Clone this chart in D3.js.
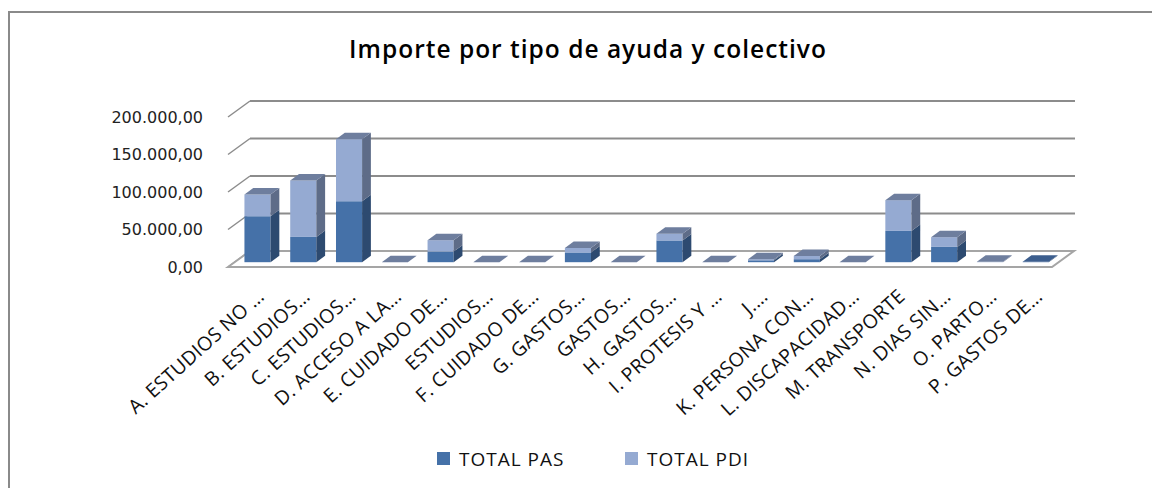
<!DOCTYPE html>
<html>
<head>
<meta charset="utf-8">
<script src="https://cdn.jsdelivr.net/npm/d3@7"></script>
<style>
  body { margin: 0; background: #fff; }
  svg { display: block; }
</style>
</head>
<body>
<svg id="chart" width="1152" height="488"></svg>
<script>
// categories and values (EUR)
var categories = [
  "A. ESTUDIOS NO …", "B. ESTUDIOS…", "C. ESTUDIOS…", "D. ACCESO A LA…",
  "E. CUIDADO DE…", "ESTUDIOS…", "F. CUIDADO DE…", "G. GASTOS…",
  "GASTOS…", "H. GASTOS…", "I. PROTESIS Y …", "J.…",
  "K. PERSONA CON…", "L. DISCAPACIDAD…", "M. TRANSPORTE", "N. DIAS SIN…",
  "O. PARTO…", "P. GASTOS DE…"
];
var totalPAS = [61300, 33700, 81300, 0, 14200, 0, 0, 13000, 0, 29000, 0, 2500, 4000, 0, 41700, 20400, 0, 600];
var totalPDI = [29000, 75300, 82700, 0, 15100, 0, 0, 6000, 0, 9000, 0, 1500, 4400, 0, 41000, 12900, 600, null];
var seriesNames = ["TOTAL PAS", "TOTAL PDI"];
var yTicks = [0, 50000, 100000, 150000, 200000];

var colors = {
  pas: {front: "#4571a8", side: "#2d4a70", top: "#3c5e8e"},
  pdi: {front: "#95aad2", side: "#5e6c88", top: "#6e7e9e"}
};

var svg = d3.select("#chart");

// frame of the chart area
svg.append("path")
  .attr("d", "M9,490 L9,12 L1160,12")
  .attr("fill", "none")
  .attr("stroke", "#8a8a8a")
  .attr("stroke-width", 2);

svg.append("text")
  .attr("x", 588)
  .attr("y", 58)
  .attr("text-anchor", "middle")
  .attr("font-family", "Open Sans")
  .attr("font-weight", 600)
  .attr("font-size", 24.5)
  .attr("letter-spacing", 1)
  .attr("fill", "#000")
  .text("Importe por tipo de ayuda y colectivo");

// 3d geometry
var depthX = 22, depthY = -16;
var x = d3.scaleBand().domain(categories).range([228, 1052]).paddingInner(0.43).paddingOuter(0.215);
var y = d3.scaleLinear().domain([0, 200000]).range([267, 117]);

// back wall gridlines + side diagonals
var grid = svg.append("g");
yTicks.forEach(function(t){
  if(t > 0){
    grid.append("line")
      .attr("x1", 228 + depthX).attr("x2", 1052 + depthX + 1)
      .attr("y1", y(t) + depthY).attr("y2", y(t) + depthY)
      .attr("stroke", "#8c8c8c").attr("stroke-width", 2);
  }
  grid.append("line")
    .attr("x1", 228).attr("y1", y(t))
    .attr("x2", 228 + depthX).attr("y2", y(t) + depthY)
    .attr("stroke", "#8c8c8c").attr("stroke-width", 1.5);
});

// floor
var x0 = 228, x1 = 1052, y0 = y(0);
svg.append("path")
  .attr("d", "M" + x0 + "," + y0 + " L" + (x0 + depthX) + "," + (y0 + depthY) +
    " L" + (x1 + depthX) + "," + (y0 + depthY) + " L" + x1 + "," + y0 + " Z")
  .attr("fill", "#fff")
  .attr("stroke", "#a5a5a5")
  .attr("stroke-width", 2);

// y labels
svg.append("g").selectAll("text")
  .data(yTicks)
  .enter().append("text")
  .attr("x", 203)
  .attr("y", function(d){ return y(d); })
  .attr("dy", "0.35em")
  .attr("text-anchor", "end")
  .attr("font-family", "DejaVu Sans")
  .attr("font-size", 16)
  .attr("fill", "#222")
  .text(function(d){
    return d3.format(",.2f")(d).replace(/,/g, "#").replace(".", ",").replace(/#/g, ".");
  });

// bars
var front = 0.3, thick = 0.4;
var bx = depthX * front, by = depthY * front;
var tx = depthX * thick, ty = depthY * thick;
var bw = x.bandwidth();
var bars = svg.append("g");

function box(g, left, bottom, top, c, drawTop){
  var right = left + bw;
  g.append("rect")
    .attr("x", left).attr("y", top)
    .attr("width", bw).attr("height", Math.max(0, bottom - top))
    .attr("fill", c.front);
  g.append("path")
    .attr("d", "M" + right + "," + bottom + " L" + right + "," + top +
      " L" + (right + tx) + "," + (top + ty) + " L" + (right + tx) + "," + (bottom + ty) + " Z")
    .attr("fill", c.side);
  if(drawTop){
    g.append("path")
      .attr("d", "M" + left + "," + top + " L" + right + "," + top +
        " L" + (right + tx) + "," + (top + ty) + " L" + (left + tx) + "," + (top + ty) + " Z")
      .attr("fill", c.top);
  }
}

categories.forEach(function(cat, i){
  var g = bars.append("g");
  var left = x(cat) + bx;
  var pas = totalPAS[i] || 0;
  var pdi = totalPDI[i];
  var base = y(0) + by;
  var pasTop = y(pas) + by;
  box(g, left, base, pasTop, colors.pas, pdi === null);
  if(pdi !== null){
    box(g, left, pasTop, y(pas + pdi) + by, colors.pdi, true);
  }
});

// category labels
svg.append("g").selectAll("text")
  .data(categories)
  .enter().append("text")
  .attr("transform", function(d){
    return "translate(" + (x(d) + bw / 2 + 10) + ",293) rotate(-42)";
  })
  .attr("text-anchor", "end")
  .attr("dy", "0.35em")
  .attr("font-family", "Open Sans")
  .attr("font-size", 19.5)
  .attr("letter-spacing", 0.3)
  .attr("fill", "#111")
  .text(function(d){ return d; });

// legend
var legend = svg.append("g");
var legendX = [437, 625];
seriesNames.forEach(function(name, i){
  legend.append("rect")
    .attr("x", legendX[i]).attr("y", 452)
    .attr("width", 13).attr("height", 13)
    .attr("fill", i === 0 ? colors.pas.front : colors.pdi.front);
  legend.append("text")
    .attr("x", legendX[i] + 22).attr("y", 459)
    .attr("dy", "0.35em")
    .attr("font-family", "Open Sans")
    .attr("font-size", 19)
    .attr("letter-spacing", 1)
    .attr("fill", "#111")
    .text(name);
});
</script>
</body>
</html>
